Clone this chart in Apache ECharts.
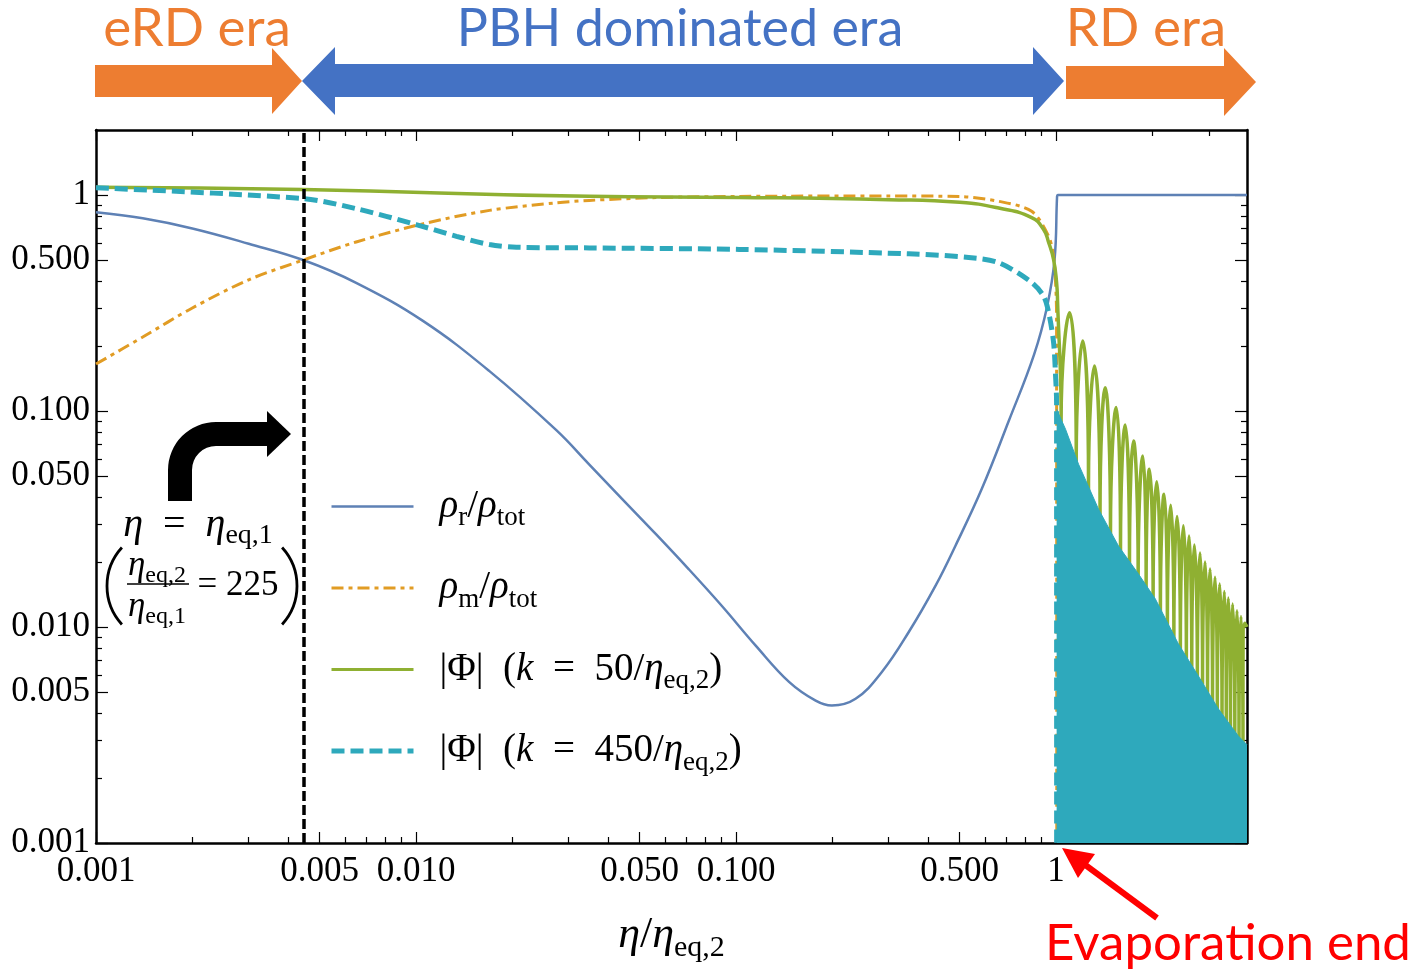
<!DOCTYPE html>
<html>
<head>
<meta charset="utf-8">
<script src="https://cdn.jsdelivr.net/npm/echarts@6/dist/echarts.min.js"></script>
<style>
  html, body { margin: 0; padding: 0; background: #fff; }
  #chart { width: 1416px; height: 973px; }
</style>
</head>
<body>
<div id="chart"></div>
<script>
// values (eta in units of eta_eq,2)
var etaRad = [0.001, 0.0014, 0.002, 0.003, 0.00444, 0.0065, 0.01048, 0.01696, 0.02744, 0.0348, 0.0441, 0.0562, 0.0711, 0.0902, 0.1152, 0.1464, 0.1773, 0.1993, 0.2363, 0.2855, 0.3465, 0.4198, 0.4849, 0.5856, 0.7108, 0.854, 0.9376, 0.9893, 1.0072, 1.012, 3.95];
var rhoRad = [0.832, 0.78, 0.70, 0.595, 0.50, 0.392, 0.262, 0.153, 0.0815, 0.0565, 0.0391, 0.0269, 0.01854, 0.01254, 0.0082, 0.00557, 0.00456, 0.00433, 0.00465, 0.00619, 0.00948, 0.0155, 0.0238, 0.0435, 0.0896, 0.183, 0.305, 0.503, 0.986, 1.0, 1.0];

var etaMat = [0.001, 0.0014, 0.002, 0.003, 0.00444, 0.0065, 0.01048, 0.01696, 0.02744, 0.0348, 0.0562, 0.1022, 0.3, 0.5, 0.662, 0.8388, 0.948, 0.982, 0.9964, 1.0036, 1.005];
var rhoMat = [0.165, 0.22, 0.30, 0.405, 0.50, 0.606, 0.735, 0.849, 0.92, 0.944, 0.973, 0.985, 0.99, 0.983, 0.935, 0.841, 0.644, 0.52, 0.394, 0.275, 0.001];

var etaPhi50 = [0.001, 0.00444, 0.0348, 0.1022, 0.3, 0.5, 0.662, 0.8388, 0.914, 0.948, 0.982, 1.0036, 1.011];
var phi50 = [1.085, 1.06, 0.986, 0.975, 0.952, 0.925, 0.87, 0.786, 0.692, 0.603, 0.503, 0.394, 0.318];
// oscillations after evaporation: arch tops, the cusps between them and the
// level where each cusp disappears into the cyan band
var phi50PeakEta = [1.1018, 1.2118, 1.3185, 1.4241, 1.5408, 1.6442, 1.7451, 1.8657, 1.9574, 2.0629, 2.1755, 2.2810, 2.3880, 2.4987, 2.6031, 2.7040, 2.8173, 2.9205, 3.0274, 3.1382, 3.2440, 3.3553, 3.4531, 3.5615, 3.6761, 3.7829, 3.8933];
var phi50Peak = [0.285, 0.2107, 0.1615, 0.1283, 0.1037, 0.0861, 0.0727, 0.0619, 0.0538, 0.0470, 0.0412, 0.0366, 0.0325, 0.0294, 0.0264, 0.0240, 0.0220, 0.0200, 0.01854, 0.01698, 0.0158, 0.01462, 0.01361, 0.01277, 0.0119, 0.0112, 0.0104];
var phi50TroughEta = [1.037, 1.1562, 1.2628, 1.3722, 1.4793, 1.5899, 1.6960, 1.8051, 1.9118, 2.0103, 2.1184, 2.2277, 2.3342, 2.4457, 2.5535, 2.6546, 2.7636, 2.8689, 2.9737, 3.0824, 3.1906, 3.3002, 3.4038, 3.5082, 3.6184, 3.7292, 3.8380];
var phi50Foot = [0.0915, 0.0604, 0.0463, 0.0344, 0.0278, 0.0234, 0.0202, 0.0176, 0.0155, 0.0139, 0.0120, 0.01033, 0.00908, 0.00807, 0.00726, 0.00667, 0.00606, 0.00557, 0.00511, 0.00470, 0.00431, 0.00405, 0.00384, 0.00360, 0.00338, 0.00317, 0.00297];
var phi50Trough = 0.001;
var phi50End = [3.95, 0.0100];

var etaPhi450 = [0.001, 0.00444, 0.0065, 0.01, 0.01338, 0.01696, 0.0206, 0.0348, 0.1022, 0.3465, 0.5334, 0.662, 0.8388, 0.914, 0.948, 0.982, 0.9964, 1.0036, 1.004];
var phi450 = [1.08, 0.963, 0.865, 0.73, 0.644, 0.59, 0.573, 0.569, 0.56, 0.534, 0.514, 0.486, 0.394, 0.34, 0.286, 0.208, 0.145, 0.11, 0.001];
// fast oscillation after evaporation, drawn as its upper envelope filled down
var etaPhi450Env = [1.004, 1.0706, 1.1755, 1.3573, 1.5672, 1.809, 2.0434, 2.4117, 2.7836, 3.2137, 3.7103, 3.95];
var phi450Env = [0.1018, 0.0823, 0.0567, 0.0351, 0.0237, 0.0176, 0.01347, 0.00834, 0.00593, 0.00418, 0.00313, 0.00285];

var etaEq1 = 1 / 225;

var tickMajor = [0.001, 0.005, 0.01, 0.05, 0.1, 0.5, 1];
var tickLabels = ['0.001', '0.005', '0.010', '0.050', '0.100', '0.500', '1'];
var xTickMinor = [0.002, 0.003, 0.004, 0.006, 0.007, 0.008, 0.009, 0.02, 0.03, 0.04, 0.06, 0.07, 0.08, 0.09, 0.2, 0.3, 0.4, 0.6, 0.7, 0.8, 0.9, 2, 3];
var yTickMinor = [0.002, 0.003, 0.004, 0.006, 0.007, 0.008, 0.009, 0.02, 0.03, 0.04, 0.06, 0.07, 0.08, 0.09, 0.2, 0.3, 0.4, 0.6, 0.7, 0.8, 0.9];

var xMin = 0.001, xMax = 3.95, yMin = 0.001, yMax = 2;

var SERIF = 'Liberation Serif';
var SANS = 'Lato';
var cBlue = '#5E81B5', cOrange = '#E19C24', cGreen = '#8FB032', cCyan = '#2EA9BC';

var L = Math.log10;
function pairs(xs, ys) {
  return xs.map(function (x, i) { return [L(x), L(ys[i])]; });
}

var greenData = pairs(etaPhi50, phi50);
phi50PeakEta.forEach(function (x, i) {
  var t = L(phi50TroughEta[i]);
  greenData.push([t, L(phi50Foot[i])]);
  greenData.push([t, L(phi50Trough)]);
  greenData.push([t, L(phi50Foot[i])]);
  greenData.push([L(x), L(phi50Peak[i])]);
});
greenData.push([L(phi50End[0]), L(phi50End[1])]);

function makeRich(size, sub, lh) {
  return {
    i: { fontFamily: SERIF, fontStyle: 'italic', fontSize: size, lineHeight: lh, verticalAlign: 'middle', color: '#000' },
    r: { fontFamily: SERIF, fontSize: size, lineHeight: lh, verticalAlign: 'middle', color: '#000' },
    s: { fontFamily: SERIF, fontSize: sub, lineHeight: Math.round(lh * 0.62), verticalAlign: 'bottom', color: '#000' },
    g: { width: 21 }
  };
}
var legendRich = makeRich(39, 27, 50);
var noteRich = makeRich(40, 28, 50);
var fracRich = makeRich(35, 24, 44);
var titleRich = makeRich(44, 30, 56);

var legendText = {
  rhoR: '{g| }{i|ρ}{s|r}{r|/}{i|ρ}{s|tot}',
  rhoM: '{g| }{i|ρ}{s|m}{r|/}{i|ρ}{s|tot}',
  phi50: '{g| }{r||Φ|  (}{i|k}{r|  =  50/}{i|η}{s|eq,2}{r|)}',
  phi450: '{g| }{r||Φ|  (}{i|k}{r|  =  450/}{i|η}{s|eq,2}{r|)}'
};

function tickLabel(v) {
  for (var i = 0; i < tickMajor.length; i++) {
    if (Math.abs(L(tickMajor[i]) - v) < 1e-6) return tickLabels[i];
  }
  return '';
}

function mkAxis(isX, pos, ticks, len, showLine, showLabel) {
  var vals = ticks.map(L);
  return {
    type: 'value',
    position: pos,
    min: L(isX ? xMin : yMin),
    max: L(isX ? xMax : yMax),
    axisLine: { show: showLine, onZero: false, lineStyle: { color: '#000', width: 2.5 } },
    axisTick: { show: true, inside: true, length: len, customValues: vals, lineStyle: { color: '#000', width: 1.2 } },
    axisLabel: showLabel ? {
      show: true, customValues: vals, formatter: tickLabel,
      fontFamily: SERIF, fontSize: 35, color: '#000', margin: isX ? 11 : 6
    } : { show: false },
    splitLine: { show: false },
    minorTick: { show: false },
    minorSplitLine: { show: false }
  };
}

var xAxes = [
  mkAxis(true, 'bottom', tickMajor, 11, true, true),
  mkAxis(true, 'bottom', xTickMinor, 6, false, false),
  mkAxis(true, 'top', tickMajor, 11, true, false),
  mkAxis(true, 'top', xTickMinor, 6, false, false)
];
xAxes[0].name = '{i|η}{r|/}{i|η}{s|eq,2}';
xAxes[0].nameLocation = 'middle';
xAxes[0].nameGap = 64;
xAxes[0].nameTextStyle = { rich: titleRich };

var yAxes = [
  mkAxis(false, 'left', tickMajor, 12, true, true),
  mkAxis(false, 'left', yTickMinor, 6, false, false),
  mkAxis(false, 'right', tickMajor, 12, true, false),
  mkAxis(false, 'right', yTickMinor, 6, false, false)
];

var chart = echarts.init(document.getElementById('chart'));

var option = {
  animation: false,
  backgroundColor: '#fff',
  grid: { left: 96, right: 169, top: 130, bottom: 130, containLabel: false, outerBoundsMode: 'none' },
  xAxis: xAxes,
  yAxis: yAxes,
  legend: {
    data: [
      { name: 'rhoR', lineStyle: { width: 2.5 } },
      { name: 'rhoM', lineStyle: { width: 3, type: [12, 5, 4, 5] } },
      { name: 'phi50', lineStyle: { width: 3 } },
      { name: 'phi450', lineStyle: { width: 5, type: [13, 6] } }
    ],
    orient: 'vertical',
    left: 329,
    top: 487,
    padding: 0,
    itemWidth: 82,
    itemHeight: 14,
    itemGap: 37,
    selectedMode: false,
    itemStyle: { opacity: 0 },
    formatter: function (name) { return legendText[name]; },
    textStyle: { rich: legendRich }
  },
  series: [
    {
      name: 'rhoR', type: 'line', data: pairs(etaRad, rhoRad), smooth: 0.4,
      symbol: 'none', lineStyle: { color: cBlue, width: 2.5 }, itemStyle: { color: cBlue },
      markLine: {
        silent: true, symbol: ['none', 'none'], label: { show: false },
        lineStyle: { color: '#000', width: 3.5, type: [10, 4] },
        data: [{ xAxis: L(etaEq1) }]
      }
    },
    {
      name: 'rhoM', type: 'line', data: pairs(etaMat, rhoMat), smooth: 0.3,
      symbol: 'none', lineStyle: { color: cOrange, width: 3, type: [12, 5, 4, 5] }, itemStyle: { color: cOrange }
    },
    {
      name: 'phi50', type: 'line', data: greenData, smooth: 0.5,
      symbol: 'none', lineStyle: { color: cGreen, width: 3.5 }, itemStyle: { color: cGreen }
    },
    {
      name: 'phi450', type: 'line', data: pairs(etaPhi450, phi450), smooth: 0.3,
      symbol: 'none', lineStyle: { color: cCyan, width: 5, type: [13, 6] }, itemStyle: { color: cCyan }
    },
    {
      name: 'phi450osc', type: 'line', z: 5, data: pairs(etaPhi450Env, phi450Env),
      symbol: 'none', lineStyle: { color: cCyan, width: 1 }, itemStyle: { color: cCyan },
      areaStyle: { color: cCyan, opacity: 1, origin: 'start' }
    }
  ],
  graphic: {
    elements: [
      // era arrows above the plot
      { type: 'polygon', shape: { points: [[95, 65], [272, 65], [272, 48], [302, 81], [272, 114], [272, 97], [95, 97]] }, style: { fill: '#ED7D31' } },
      { type: 'polygon', shape: { points: [[302, 81], [335, 47], [335, 64], [1033, 64], [1033, 47], [1064, 81], [1033, 115], [1033, 97], [335, 97], [335, 115]] }, style: { fill: '#4472C4' } },
      { type: 'polygon', shape: { points: [[1066, 66], [1224, 66], [1224, 48], [1256, 82], [1224, 116], [1224, 99], [1066, 99]] }, style: { fill: '#ED7D31' } },
      { type: 'text', style: { text: 'eRD era', x: 197, y: 29, align: 'center', verticalAlign: 'middle', fontFamily: SANS, fontSize: 53, fill: '#ED7D31' } },
      { type: 'text', style: { text: 'PBH dominated era', x: 680, y: 29, align: 'center', verticalAlign: 'middle', fontFamily: SANS, fontSize: 52, fill: '#4472C4' } },
      { type: 'text', style: { text: 'RD era', x: 1146, y: 29, align: 'center', verticalAlign: 'middle', fontFamily: SANS, fontSize: 53, fill: '#ED7D31' } },
      // bent arrow pointing at eta_eq,1
      { type: 'rect', shape: { x: 168, y: 469, width: 24, height: 32 }, style: { fill: '#000' } },
      { type: 'sector', shape: { cx: 216, cy: 470, r0: 24, r: 48, startAngle: Math.PI, endAngle: Math.PI * 1.5, clockwise: true }, style: { fill: '#000' } },
      { type: 'rect', shape: { x: 215, y: 422, width: 53, height: 24 }, style: { fill: '#000' } },
      { type: 'polygon', shape: { points: [[267, 411], [291, 434], [267, 457]] }, style: { fill: '#000' } },
      { type: 'text', style: { text: '{i|η}{r|  =  }{i|η}{s|eq,1}', x: 198, y: 525, align: 'center', verticalAlign: 'middle', rich: noteRich } },
      { type: 'text', style: { text: '{i|η}{s|eq,2}', x: 157, y: 566, align: 'center', verticalAlign: 'middle', rich: fracRich } },
      { type: 'line', shape: { x1: 127, y1: 584, x2: 189, y2: 584 }, style: { stroke: '#000', lineWidth: 1.5 } },
      { type: 'text', style: { text: '{i|η}{s|eq,1}', x: 157, y: 607, align: 'center', verticalAlign: 'middle', rich: fracRich } },
      { type: 'text', style: { text: '= 225', x: 238, y: 586, align: 'center', verticalAlign: 'middle', fontFamily: SERIF, fontSize: 35, fill: '#000' } },
      { type: 'arc', shape: { cx: 164, cy: 586, r: 57, startAngle: Math.PI - 0.74, endAngle: Math.PI + 0.74, clockwise: true }, style: { stroke: '#000', lineWidth: 2.8, fill: null } },
      { type: 'arc', shape: { cx: 240, cy: 586, r: 57, startAngle: -0.74, endAngle: 0.74, clockwise: true }, style: { stroke: '#000', lineWidth: 2.8, fill: null } },
      // evaporation end marker
      { type: 'line', shape: { x1: 1157, y1: 918, x2: 1084, y2: 864 }, style: { stroke: '#FF0000', lineWidth: 6 } },
      { type: 'polygon', shape: { points: [[1062, 848], [1095, 854], [1078, 878]] }, style: { fill: '#FF0000' } },
      { type: 'text', style: { text: 'Evaporation end', x: 1228, y: 944, align: 'center', verticalAlign: 'middle', fontFamily: SANS, fontSize: 51, fill: '#FF0000' } }
    ]
  }
};

chart.setOption(option);
</script>
</body>
</html>
